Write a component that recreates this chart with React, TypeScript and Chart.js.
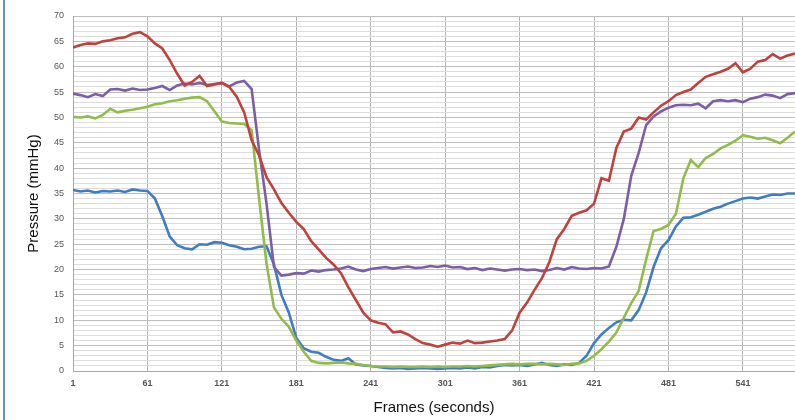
import React, { useEffect, useRef } from "react";
import { Chart, registerables } from "chart.js";

Chart.register(...registerables);

const STEP = 6;
const FRAMES = Array.from({ length: 98 }, (_, i) => 1 + STEP * i);
const X_TICKS = [1, 61, 121, 181, 241, 301, 361, 421, 481, 541];

const RED = [
  63.8, 64.3, 64.6, 64.5, 65.0, 65.2, 65.6, 65.8, 66.5, 66.8,
  66.0, 64.6, 63.6, 61.3, 58.6, 56.3, 57.0, 58.2, 56.2, 56.5,
  56.8, 56.0, 54.1, 51.0, 45.5, 42.5, 38.2, 35.8, 33.1, 31.2,
  29.4, 28.0, 25.6, 24.0, 22.3, 21.0, 19.3, 16.5, 14.0, 11.5,
  10.0, 9.5, 9.2, 7.6, 7.8, 7.2, 6.3, 5.5, 5.2, 4.8,
  5.2, 5.6, 5.4, 6.0, 5.5, 5.6, 5.8, 6.0, 6.3, 8.0,
  11.5, 13.5, 16.0, 18.3, 21.5, 26.0, 28.0, 30.6, 31.2, 31.7,
  33.0, 38.0, 37.5, 44.0, 47.2, 47.8, 50.0, 49.6, 51.0, 52.3,
  53.2, 54.4, 55.0, 55.5, 56.8, 58.0, 58.5, 59.0, 59.6, 60.7,
  58.9, 59.6, 61.0, 61.3, 62.5, 61.6, 62.2, 62.6,
];

const PURPLE = [
  54.7, 54.4, 54.0, 54.6, 54.2, 55.5, 55.6, 55.3, 55.7, 55.4,
  55.5, 55.8, 56.2, 55.4, 56.3, 56.7, 56.5, 56.8, 56.4, 56.6,
  56.8, 56.1, 56.9, 57.2, 55.6, 43.6, 33.0, 20.5, 18.8, 19.0,
  19.3, 19.2, 19.8, 19.6, 19.9, 20.0, 20.2, 20.6, 20.0, 19.7,
  20.1, 20.3, 20.5, 20.2, 20.4, 20.6, 20.3, 20.4, 20.7, 20.5,
  20.8, 20.4, 20.5, 20.1, 20.3, 19.9, 20.2, 20.0, 19.8, 20.0,
  20.1, 19.9, 20.0, 19.7, 19.9, 20.3, 20.0, 20.5, 20.2, 20.1,
  20.3, 20.2, 20.6, 24.5, 30.0, 38.5, 43.0, 48.5, 50.2, 51.2,
  51.9, 52.4, 52.5, 52.4, 52.7, 51.8, 53.2, 53.4, 53.2, 53.4,
  53.0, 53.7, 54.0, 54.5, 54.3, 53.8, 54.6, 54.8,
];

const GREEN = [
  50.1, 50.0, 50.2, 49.8, 50.5, 51.7, 51.0, 51.3, 51.5, 51.8,
  52.1, 52.6, 52.8, 53.2, 53.4, 53.7, 53.9, 54.0, 53.2, 51.2,
  49.2, 48.9, 48.8, 48.7, 47.5, 34.0, 21.2, 12.5, 10.3, 8.7,
  6.0, 3.8, 2.0, 1.6, 1.5, 1.6, 1.7, 1.5, 1.4, 1.2,
  1.0, 0.9, 0.9, 0.8, 0.9, 0.8, 0.8, 0.9, 0.8, 0.9,
  0.8, 0.9, 0.9, 1.0, 0.9, 1.0, 1.1, 1.2, 1.3, 1.4,
  1.3, 1.4, 1.4, 1.3, 1.4, 1.3, 1.2, 1.4, 1.5, 2.0,
  3.0, 4.3, 5.8, 7.6, 10.5, 13.4, 15.8, 22.0, 27.6, 28.0,
  28.8, 31.0, 38.0, 41.6, 40.2, 42.0, 42.8, 43.9, 44.6, 45.4,
  46.5, 46.2, 45.8, 46.0, 45.5, 44.9, 46.0, 47.2,
];

const BLUE = [
  35.7, 35.4, 35.6, 35.2, 35.5, 35.4, 35.6, 35.3, 35.8, 35.6,
  35.5, 34.0, 30.5, 26.5, 24.8, 24.2, 24.0, 25.0, 24.9, 25.4,
  25.3, 24.8, 24.5, 24.0, 24.1, 24.5, 24.6, 21.0, 15.0, 11.5,
  6.5, 4.5, 3.8, 3.6, 2.8, 2.2, 2.0, 2.5, 1.3, 1.1,
  1.0, 0.8, 0.6, 0.5, 0.6, 0.4, 0.5, 0.6, 0.5, 0.4,
  0.5, 0.6, 0.5, 0.7, 0.5, 0.8, 0.7, 1.0, 1.2, 1.1,
  1.2, 1.0, 1.3, 1.6, 1.2, 1.0, 1.3, 1.2, 1.6, 3.0,
  5.5, 7.2, 8.5, 9.6, 10.1, 10.0, 12.0, 15.5, 20.5, 24.2,
  25.8, 28.5, 30.2, 30.3, 30.8, 31.4, 32.0, 32.4, 33.0, 33.5,
  34.0, 34.2, 34.0, 34.4, 34.8, 34.7, 35.0, 35.0,
];

const SERIES = [
  { name: "Red", values: RED, color: "#c0413d" },
  { name: "Purple", values: PURPLE, color: "#7b5ea7" },
  { name: "Green", values: GREEN, color: "#92bc4a" },
  { name: "Blue", values: BLUE, color: "#3f7cc4" },
];

export default function App() {
  const canvasRef = useRef<HTMLCanvasElement | null>(null);

  useEffect(() => {
    const canvas = canvasRef.current;
    if (!canvas) return;
    const chart = new Chart(canvas, {
      type: "line",
      data: {
        datasets: SERIES.map((s) => ({
          label: s.name,
          data: FRAMES.map((f, i) => ({ x: f, y: s.values[i] })),
          borderColor: s.color,
          backgroundColor: s.color,
          borderWidth: 2.6,
          pointRadius: 0,
          tension: 0,
        })),
      },
      options: {
        responsive: false,
        animation: false,
        layout: { padding: { top: 16, right: 0, left: 0, bottom: 0 } },
        plugins: {
          legend: { display: false },
          tooltip: { enabled: false },
        },
        scales: {
          x: {
            type: "linear",
            min: 1,
            max: 583,
            afterBuildTicks: (scale: any) => {
              scale.ticks = X_TICKS.map((v) => ({ value: v }));
            },
            afterFit: (scale: any) => {
              scale.height = 49;
            },
            ticks: {
              autoSkip: false,
              maxRotation: 0,
              padding: 7,
              color: "#555555",
              font: { family: "Liberation Sans, Arial, sans-serif", size: 9, weight: "bold" },
              callback: (v: any) => String(v),
            },
            grid: { color: "#b4b4b4", drawTicks: false, lineWidth: 1 },
            border: { color: "#a8a8a8" },
            title: {
              display: true,
              text: "Frames (seconds)",
              color: "#111111",
              font: { family: "Liberation Sans, Arial, sans-serif", size: 15 },
              padding: { top: 0, bottom: 3 },
            },
          },
          y: {
            min: 0,
            max: 70,
            afterFit: (scale: any) => {
              scale.width = 73;
            },
            ticks: {
              stepSize: 1,
              autoSkip: false,
              padding: 9,
              color: "#555555",
              font: { family: "Liberation Sans, Arial, sans-serif", size: 9 },
              callback: (v: any) => (Number(v) % 5 === 0 ? String(v) : ""),
            },
            grid: {
              drawTicks: false,
              color: (ctx: any) =>
                ctx.tick && ctx.tick.value % 5 === 0 ? "#bdbdbd" : "#dcdcdc",
              lineWidth: 1,
            },
            border: { color: "#a8a8a8" },
            title: {
              display: true,
              text: "Pressure (mmHg)",
              color: "#111111",
              font: { family: "Liberation Sans, Arial, sans-serif", size: 15 },
              padding: { top: 25, bottom: 0 },
            },
          },
        },
      },
    });
    return () => chart.destroy();
  }, []);

  return (
    <div
      style={{
        position: "fixed",
        left: 0,
        top: 0,
        width: 795,
        height: 420,
        background: "#ffffff",
        overflow: "hidden",
      }}
    >
      <div
        style={{
          position: "absolute",
          left: 3,
          top: 0,
          width: 2,
          height: 420,
          background: "#5f93d3",
        }}
      />
      <canvas
        ref={canvasRef}
        width={795}
        height={420}
        style={{ position: "absolute", left: 0, top: 0 }}
      />
    </div>
  );
}
